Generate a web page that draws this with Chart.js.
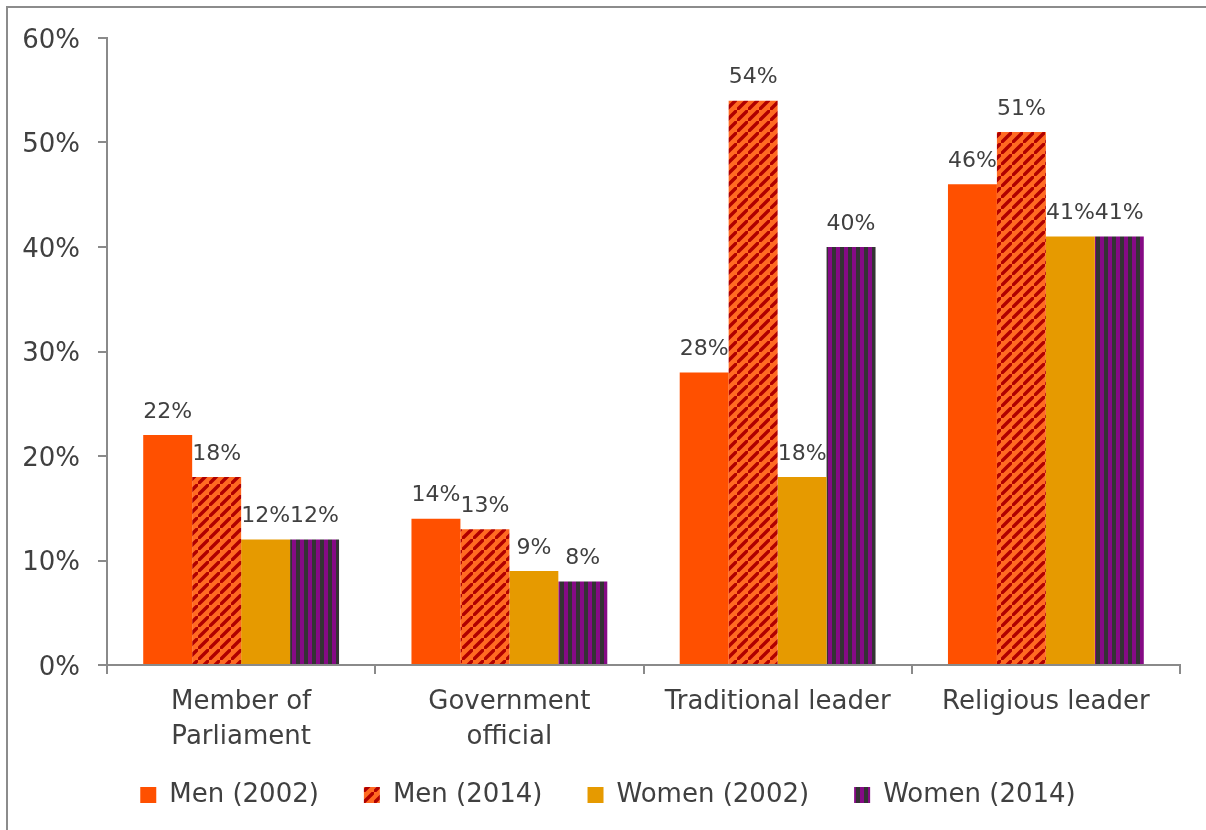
<!DOCTYPE html>
<html>
<head>
<meta charset="utf-8">
<script src="https://cdn.jsdelivr.net/npm/chart.js@4"></script>
<style>
  html, body { margin: 0; padding: 0; background: #fff; }
  #wrap { width: 1206px; height: 830px; }
</style>
</head>
<body>
<div id="wrap"><canvas id="chart" width="1206" height="830"></canvas></div>
<script>
const categories = [["Member of", "Parliament"], ["Government", "official"], "Traditional leader", "Religious leader"];
const seriesNames = ["Men (2002)", "Men (2014)", "Women (2002)", "Women (2014)"];
const men2002 = [22, 14, 28, 46];
const men2014 = [18, 13, 54, 51];
const women2002 = [12, 9, 18, 41];
const women2014 = [12, 8, 40, 41];
const yTicks = [0, 10, 20, 30, 40, 50, 60];

const FONT = "'DejaVu Sans', sans-serif";
const TEXT = '#404040';
const AXIS = '#8a8a8a';

// upward diagonal hatch, orange with dark red stripes
function diagonalPattern() {
  const s = 11;
  const c = document.createElement('canvas');
  c.width = s; c.height = s;
  const g = c.getContext('2d');
  g.fillStyle = '#ff6a22';
  g.fillRect(0, 0, s, s);
  g.strokeStyle = '#b00000';
  g.lineWidth = 3.4;
  g.beginPath();
  g.moveTo(-2, s + 2); g.lineTo(s + 2, -2);
  g.moveTo(-s - 2, 2); g.lineTo(2, -s - 2);
  g.moveTo(s - 2, 2 * s + 2); g.lineTo(2 * s + 2, s - 2);
  g.stroke();
  return g.createPattern(c, 'repeat');
}

// vertical stripes, purple and dark grey
function verticalPattern() {
  const c = document.createElement('canvas');
  c.width = 8; c.height = 8;
  const g = c.getContext('2d');
  g.fillStyle = '#333333';
  g.fillRect(0, 0, 4, 8);
  g.fillStyle = '#850a85';
  g.fillRect(4, 0, 4, 8);
  return g.createPattern(c, 'repeat');
}

const frame = {
  id: 'frame',
  afterLayout(chart) {
    // nudge the legend row a little to the right
    chart.legend.left += 18;
    chart.legend.right += 18;
    // let the two-line category labels run into the legend's top padding
    chart.scales.x.bottom = chart.legend.bottom;
  },
  beforeDraw(chart) {
    const ctx = chart.ctx;
    ctx.save();
    ctx.fillStyle = '#fff';
    ctx.fillRect(0, 0, chart.width, chart.height);
    ctx.strokeStyle = '#8c8c8c';
    ctx.lineWidth = 2;
    ctx.beginPath();
    ctx.moveTo(7, chart.height);
    ctx.lineTo(7, 7);
    ctx.lineTo(chart.width, 7);
    ctx.stroke();
    ctx.restore();
  }
};

const valueLabels = {
  id: 'valueLabels',
  afterDatasetsDraw(chart) {
    const ctx = chart.ctx;
    ctx.save();
    ctx.font = '22px ' + FONT;
    ctx.fillStyle = TEXT;
    ctx.textAlign = 'center';
    ctx.textBaseline = 'bottom';
    chart.data.datasets.forEach((ds, i) => {
      chart.getDatasetMeta(i).data.forEach((bar, j) => {
        ctx.fillText(ds.data[j] + '%', bar.x, bar.y - 12);
      });
    });
    ctx.restore();
  }
};

new Chart(document.getElementById('chart'), {
  type: 'bar',
  data: {
    labels: categories,
    datasets: [
      { label: seriesNames[0], data: men2002, backgroundColor: '#ff5000' },
      { label: seriesNames[1], data: men2014, backgroundColor: diagonalPattern() },
      { label: seriesNames[2], data: women2002, backgroundColor: '#e69a00' },
      { label: seriesNames[3], data: women2014, backgroundColor: verticalPattern() }
    ]
  },
  options: {
    responsive: false,
    animation: false,
    categoryPercentage: 0.73,
    barPercentage: 1.0,
    layout: { padding: { top: 38, right: 26, left: 0, bottom: 12 } },
    plugins: {
      legend: {
        position: 'bottom',
        labels: {
          font: { family: FONT, size: 26 },
          color: TEXT,
          boxWidth: 16,
          boxHeight: 16,
          padding: 45
        }
      },
      tooltip: { enabled: false }
    },
    scales: {
      x: {
        offset: true,
        grid: { offset: true, drawOnChartArea: false, tickLength: 9, color: AXIS, lineWidth: 2 },
        border: { color: AXIS, width: 2 },
        ticks: { font: { family: FONT, size: 26, lineHeight: 1.35 }, color: TEXT, padding: 11, maxRotation: 0 },
        afterFit(scale) { scale.height = 72; }
      },
      y: {
        min: 0,
        max: 60,
        afterBuildTicks(scale) { scale.ticks = yTicks.map(v => ({ value: v })); },
        grid: { drawOnChartArea: false, tickLength: 9, color: AXIS, lineWidth: 2 },
        border: { color: AXIS, width: 2 },
        ticks: {
          font: { family: FONT, size: 26 },
          color: TEXT,
          padding: 18,
          labelOffset: 3,
          callback: v => v + '%'
        },
        afterFit(scale) { scale.width = 107; }
      }
    }
  },
  plugins: [frame, valueLabels]
});
</script>
</body>
</html>
